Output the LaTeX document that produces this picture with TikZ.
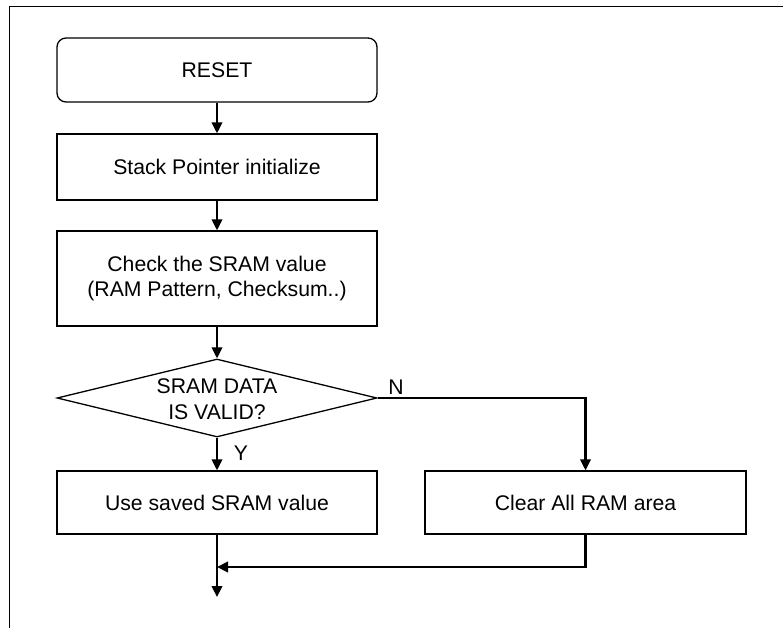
\documentclass[tikz,border=0pt]{standalone}
\usepackage{fontspec}
\setmainfont{Liberation Sans}
\usetikzlibrary{arrows.meta,shapes.geometric}
\begin{document}
\begin{tikzpicture}[x=1pt,y=-1pt,
  box/.style={draw, line width=1.3pt, inner sep=0pt, minimum width=320pt, align=center, font=\fontsize{21.2}{25}\selectfont},
  txt/.style={inner sep=0pt, align=center, font=\fontsize{21.2}{25.5}\selectfont},
  conn/.style={line width=2.2pt, -{Triangle[length=11pt,width=10.5pt]}}]
\useasboundingbox (0,0) rectangle (783,628);
\draw[line width=1.7pt] (9,6.5) -- (783,6.5);
\draw[line width=1pt] (9,6.5) -- (9,628);
\node[box, rounded corners=9pt, minimum height=64pt] (reset) at (217,70) {RESET};
\node[box, minimum height=66pt] (stack) at (217,167) {Stack Pointer initialize};
\node[box, minimum height=95pt] (check) at (217,278.5) {Check the SRAM value\\(RAM Pattern, Checksum..)};
\node[draw, diamond, line width=1.3pt, inner sep=0pt, minimum width=320pt, minimum height=78pt] (dec) at (217,398) {};
\node[txt] (dectext) at (217,399) {SRAM DATA\\IS VALID?};
\node[box, minimum height=63pt] (use) at (217,502.5) {Use saved SRAM value};
\node[box, minimum width=321pt, minimum height=63pt] (clear) at (585.5,502.5) {Clear All RAM area};
\coordinate (join) at (217,567);
\coordinate (out) at (217,597);
\draw[conn] (reset) -- (stack);
\draw[conn] (stack) -- (check);
\draw[conn] (check) -- (dec);
\draw[conn] (dec.south) -- (use);
\draw[conn] (dec.east) -| (clear.north);
\draw[conn] (clear.south) |- (join);
\draw[conn] (use.south) -- (out);
\node[txt] (nlab) at (396,387.5) {N};
\node[txt] (ylab) at (241,453.5) {Y};
\end{tikzpicture}
\end{document}
